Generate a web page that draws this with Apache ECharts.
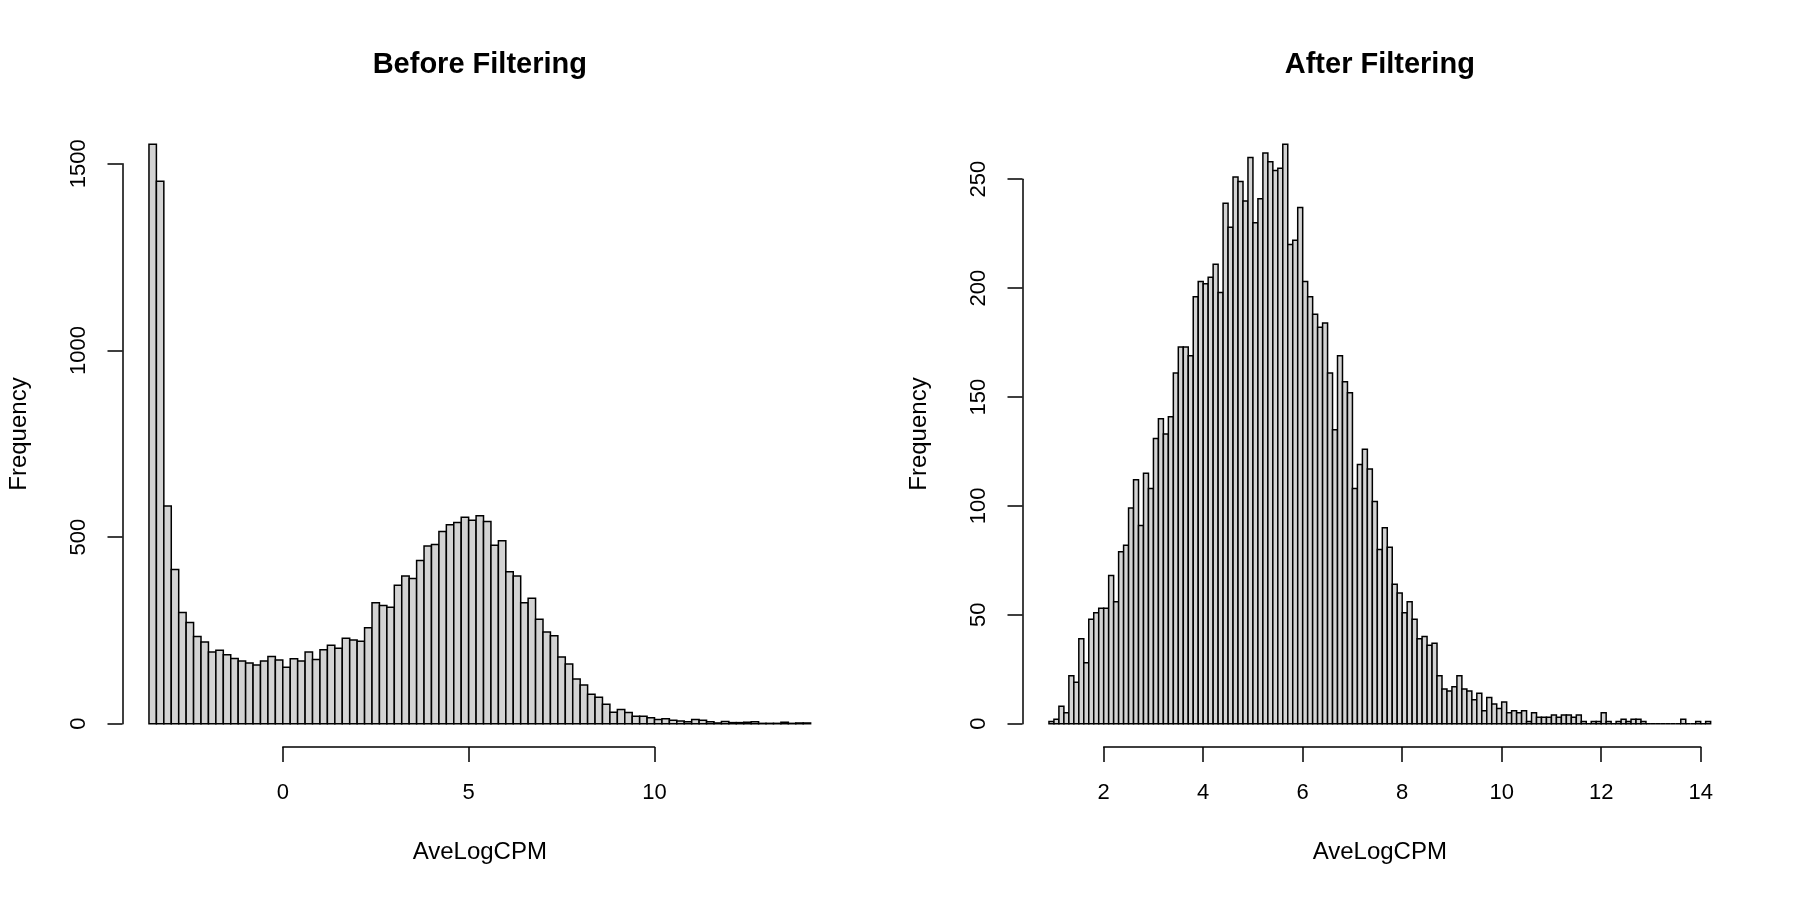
<!DOCTYPE html>
<html>

<head>
    <meta charset="utf-8">
    <title>AveLogCPM histograms</title>
    <script src="https://cdn.jsdelivr.net/npm/echarts@6/dist/echarts.min.js"></script>
    <style>
        html, body { margin: 0; padding: 0; background: #fff; }
    </style>
</head>

<body>
    <div id="main" style="width: 1800px;height:900px;"></div>
    <script type="text/javascript">
        // histogram counts
        var beforeStart = -3.6
        var beforeBinWidth = 0.2
        var beforeCounts = [
            1552, 1453, 583, 413, 298, 271, 234, 219, 192, 197,
            185, 175, 168, 163, 157, 168, 180, 171, 151, 174,
            168, 192, 172, 198, 210, 202, 229, 224, 221, 257,
            324, 317, 312, 371, 396, 389, 437, 476, 480, 515,
            533, 539, 553, 545, 557, 542, 478, 490, 407, 396,
            324, 336, 280, 246, 236, 179, 160, 120, 104, 79,
            71, 52, 31, 38, 30, 20, 20, 16, 11, 13,
            9, 7, 5, 11, 9, 5, 2, 6, 3, 3,
            4, 5, 1, 1, 1, 4, 1, 2, 2
        ]
        var beforeXTicks = [0, 5, 10]
        var beforeYTicks = [0, 500, 1000, 1500]

        var afterStart = 0.9
        var afterBinWidth = 0.1
        var afterCounts = [
            1, 2, 8, 5, 22, 19, 39, 28, 48, 51, 53,
            53, 68, 56, 79, 82, 99, 112, 91, 115, 108,
            131, 140, 133, 141, 161, 173, 173, 169, 196, 203,
            202, 205, 211, 198, 239, 228, 251, 249, 240, 260,
            230, 241, 262, 258, 254, 255, 266, 220, 222, 237,
            203, 196, 188, 182, 184, 161, 135, 169, 157, 152,
            108, 119, 126, 117, 102, 80, 90, 81, 64, 60,
            51, 56, 48, 39, 40, 36, 37, 22, 16, 15,
            17, 22, 16, 15, 11, 14, 6, 12, 9, 7,
            10, 5, 6, 5, 6, 1, 5, 3, 3, 3,
            4, 3, 4, 4, 3, 4, 1, 0, 1, 1,
            5, 1, 0, 1, 2, 1, 2, 2, 1, 0,
            0, 0, 0, 0, 0, 0, 2, 0, 0, 1,
            0, 1
        ]
        var afterXTicks = [2, 4, 6, 8, 10, 12, 14]
        var afterYTicks = [0, 50, 100, 150, 200, 250]

        // layout of the two plot regions (pixels)
        var plotTop = 121.2
        var plotH = 625.7
        var plotW = 714.6
        var panelLefts = [122.5, 1022.5]
        var font = "'Liberation Sans', Arial, sans-serif"

        var panels = [
            { title: "Before Filtering", start: beforeStart, bw: beforeBinWidth, counts: beforeCounts, xt: beforeXTicks, yt: beforeYTicks },
            { title: "After Filtering", start: afterStart, bw: afterBinWidth, counts: afterCounts, xt: afterXTicks, yt: afterYTicks }
        ]

        var option = {
            backgroundColor: "#fff",
            animation: false,
            title: [],
            grid: [],
            xAxis: [],
            yAxis: [],
            series: []
        }

        var axisLine = { show: true, lineStyle: { color: "#000", width: 1.5 } }
        var axisTick = { show: true, inside: false, length: 15, lineStyle: { color: "#000", width: 1.5 } }
        var plain = function (v) { return String(v) }

        panels.forEach(function (p, k) {
            var left = panelLefts[k]
            var n = p.counts.length
            var x0 = p.start, x1 = p.start + n * p.bw
            var xPad = (x1 - x0) * 0.04
            var xMin = x0 - xPad, xMax = x1 + xPad
            var yMaxData = Math.max.apply(null, p.counts)
            var yPad = yMaxData * 0.04
            var yMin = -yPad, yMax = yMaxData + yPad
            var pxX = function (v) { return left + (v - xMin) / (xMax - xMin) * plotW }
            var pxY = function (v) { return plotTop + plotH - (v - yMin) / (yMax - yMin) * plotH }

            var bars = p.counts.map(function (c, i) {
                return [p.start + i * p.bw, p.start + (i + 1) * p.bw, c]
            })

            var g = option.grid.length
            // main plot region
            option.grid.push({ left: left, top: plotTop, width: plotW, height: plotH })
            option.xAxis.push({
                gridIndex: g, type: "value", min: xMin, max: xMax,
                axisLine: { show: false }, axisTick: { show: false }, axisLabel: { show: false }, splitLine: { show: false },
                name: "AveLogCPM", nameLocation: "middle", nameGap: 93,
                nameTextStyle: { fontFamily: font, fontSize: 24, color: "#000" }
            })
            option.yAxis.push({
                gridIndex: g, type: "value", min: yMin, max: yMax,
                axisLine: { show: false }, axisTick: { show: false }, axisLabel: { show: false }, splitLine: { show: false },
                name: "Frequency", nameLocation: "middle", nameGap: 91, nameRotate: 90,
                nameTextStyle: { fontFamily: font, fontSize: 24, color: "#000" }
            })
            option.series.push({
                type: "custom",
                xAxisIndex: g, yAxisIndex: g,
                data: bars,
                encode: { x: [0, 1], y: 2 },
                renderItem: function (params, api) {
                    var a = api.coord([api.value(0), 0])
                    var b = api.coord([api.value(1), api.value(2)])
                    return {
                        type: "rect",
                        shape: { x: a[0], y: b[1], width: b[0] - a[0], height: a[1] - b[1] },
                        style: { fill: "#d3d3d3", stroke: "#000", lineWidth: 1.5 }
                    }
                }
            })

            // x axis (R style, from first to last tick)
            var xt0 = p.xt[0], xt1 = p.xt[p.xt.length - 1]
            option.grid.push({ left: pxX(xt0), width: pxX(xt1) - pxX(xt0), top: plotTop + plotH - 40, height: 40 })
            option.xAxis.push({
                gridIndex: g + 1, type: "value", min: xt0, max: xt1, interval: p.xt[1] - p.xt[0],
                axisLine: axisLine, axisTick: axisTick, splitLine: { show: false },
                axisLabel: { margin: 35, fontFamily: font, fontSize: 22, color: "#000", formatter: plain, showMinLabel: true, showMaxLabel: true }
            })
            option.yAxis.push({ gridIndex: g + 1, type: "value", show: false, min: 0, max: 1 })

            // y axis
            var yt0 = p.yt[0], yt1 = p.yt[p.yt.length - 1]
            option.grid.push({ left: left, width: 40, top: pxY(yt1), height: pxY(yt0) - pxY(yt1) })
            option.xAxis.push({ gridIndex: g + 2, type: "value", show: false, min: 0, max: 1 })
            option.yAxis.push({
                gridIndex: g + 2, type: "value", min: yt0, max: yt1, interval: p.yt[1] - p.yt[0],
                axisLine: axisLine, axisTick: axisTick, splitLine: { show: false },
                axisLabel: { margin: 33, rotate: 90, fontFamily: font, fontSize: 22, color: "#000", formatter: plain, showMinLabel: true, showMaxLabel: true }
            })

            option.title.push({
                text: p.title, left: left + plotW / 2, top: 50, textAlign: "center", padding: 0,
                textStyle: { fontFamily: font, fontSize: 29, fontWeight: "bold", color: "#000" }
            })
        })

        var myChart = echarts.init(document.getElementById("main"))
        myChart.setOption(option)
    </script>
</body>

</html>
